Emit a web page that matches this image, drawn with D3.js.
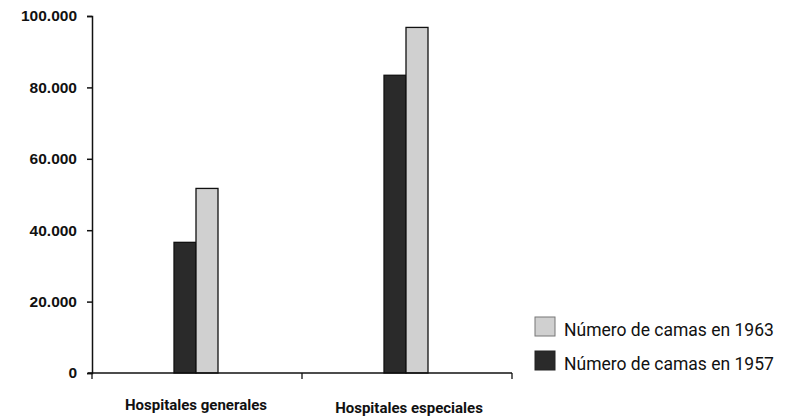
<!DOCTYPE html>
<html>
<head>
<meta charset="utf-8">
<script src="https://cdn.jsdelivr.net/npm/d3@7"></script>
<style>
  html, body { margin: 0; padding: 0; background: #fff; }
  svg { display: block; font-family: Roboto, "Liberation Sans", sans-serif; }
</style>
</head>
<body>
<svg id="chart" width="785" height="416"></svg>
<script>
// Hospital bed counts by hospital type
const categories = ["Hospitales generales", "Hospitales especiales"];
const years = ["1957", "1963"];
const beds1957 = [36600, 83400];
const beds1963 = [51700, 96800];
const yTicks = [0, 20000, 40000, 60000, 80000, 100000];
const legendLabels = ["Número de camas en 1963", "Número de camas en 1957"];

const fills = { "1957": "#2a2a2a", "1963": "#d0d0d0" };

const svg = d3.select("#chart");
const plot = { left: 92, right: 512, top: 16, bottom: 373 };

const x = d3.scaleBand().domain(categories).range([plot.left, plot.right]);
const y = d3.scaleLinear().domain([0, 100000]).range([plot.bottom, plot.top]);
const barW = 22;

const series = [
  { year: "1957", values: beds1957, offset: -barW },
  { year: "1963", values: beds1963, offset: 0 }
];

// bars
series.forEach(s => {
  svg.append("g").selectAll("rect")
    .data(categories.map((c, i) => ({ c, v: s.values[i] })))
    .join("rect")
    .attr("x", d => x(d.c) + x.bandwidth() / 2 + s.offset - 1)
    .attr("y", d => y(d.v))
    .attr("width", barW)
    .attr("height", d => y(0) - y(d.v))
    .attr("fill", fills[s.year])
    .attr("stroke", "#111")
    .attr("stroke-width", 1.3);
});

// y axis
const fmt = d => d === 0 ? "0" : d3.format(",")(d).replace(/,/g, ".");
const yAxis = svg.append("g")
  .attr("transform", `translate(${plot.left},0)`)
  .call(d3.axisLeft(y).tickValues(yTicks).tickFormat(fmt).tickSize(5).tickPadding(10));
yAxis.select(".domain").attr("stroke", "#111").attr("stroke-width", 1.5);
yAxis.selectAll(".tick line").attr("stroke", "#111").attr("stroke-width", 1.5);
yAxis.selectAll(".tick text")
  .attr("fill", "#111")
  .style("font-size", "15.5px")
  .style("font-weight", "bold");

// x axis with ticks at band boundaries
const xg = svg.append("g").attr("transform", `translate(0,${plot.bottom})`);
xg.append("line")
  .attr("x1", plot.left - 4).attr("x2", plot.right)
  .attr("y1", 0).attr("y2", 0)
  .attr("stroke", "#111").attr("stroke-width", 1.3);
xg.selectAll("line.tk")
  .data([plot.left, x(categories[1]), plot.right])
  .join("line")
  .attr("class", "tk")
  .attr("x1", d => d).attr("x2", d => d)
  .attr("y1", 0).attr("y2", 6)
  .attr("stroke", "#111").attr("stroke-width", 1.3);
xg.selectAll("text")
  .data(categories)
  .join("text")
  .attr("x", (d, i) => x(d) + x.bandwidth() / 2 + (i ? 2 : -1))
  .attr("y", (d, i) => i ? 40 : 37)
  .attr("text-anchor", "middle")
  .attr("fill", "#111")
  .style("font-size", "15px")
  .style("font-weight", "bold")
  .text(d => d);

// legend
const legend = svg.append("g").attr("transform", "translate(535,317)");
const legendYears = ["1963", "1957"];
legend.selectAll("rect")
  .data(legendYears)
  .join("rect")
  .attr("x", 0).attr("y", (d, i) => i * 34)
  .attr("width", 20).attr("height", 19)
  .attr("fill", d => fills[d])
  .attr("stroke", d => d === "1963" ? "#777" : "#222")
  .attr("stroke-width", 1);
legend.selectAll("text")
  .data(legendLabels)
  .join("text")
  .attr("x", 29).attr("y", (d, i) => i * 34 + 19)
  .attr("fill", "#111")
  .style("font-size", "17.5px")
  .text(d => d);
</script>
</body>
</html>
